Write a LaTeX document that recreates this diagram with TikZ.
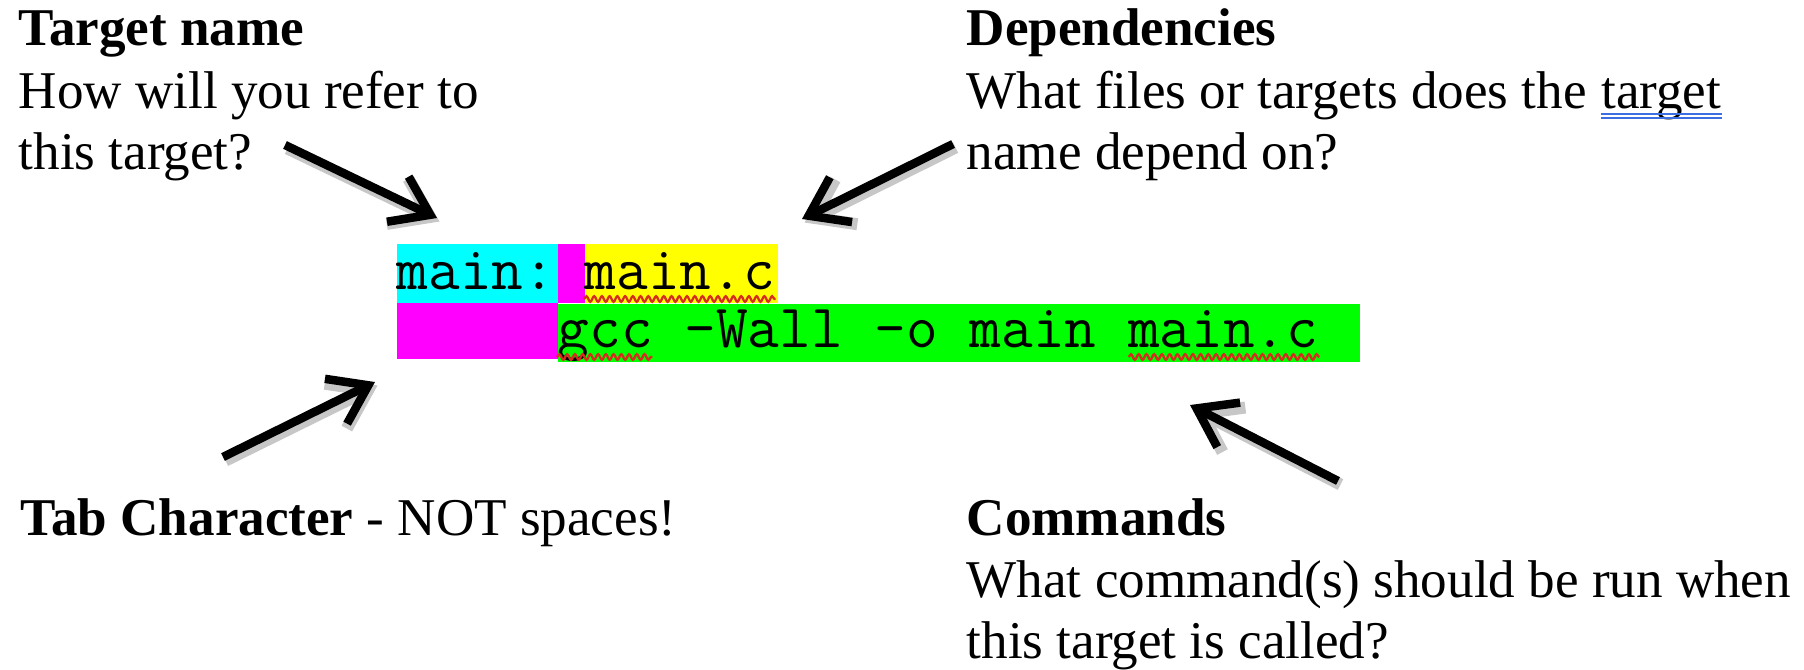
\documentclass[tikz,border=0pt]{standalone}
\usepackage{fontspec}
\setmainfont{Liberation Serif}
\usetikzlibrary{arrows.meta,calc,decorations.pathmorphing,positioning}

\definecolor{hlcyan}{RGB}{0,255,255}
\definecolor{hlmagenta}{RGB}{255,0,255}
\definecolor{hlyellow}{RGB}{255,255,0}
\definecolor{hlgreen}{RGB}{0,255,0}
\definecolor{spellred}{RGB}{215,45,30}
\definecolor{gramblue}{RGB}{60,110,225}

\newcommand{\txtsize}{\fontsize{15.1pt}{17.6pt}\selectfont}
\newcommand{\codesize}{\fontsize{17.5pt}{20pt}\selectfont\ttfamily}

\tikzset{
    lbl/.style={anchor=base west, inner sep=0pt, font=\txtsize},
    code/.style={anchor=base west, inner sep=0pt, font=\codesize},
    hl/.style={anchor=north west, inner sep=0pt, draw=none},
    arr/.style={line width=0.085cm, -{Straight Barb[length=0.36cm,width=0.5cm]},
        preaction={draw=black!22, line width=0.12cm,
            transform canvas={shift={(0.025cm,-0.035cm)}}}},
    wavy/.style={spellred, line width=0.65pt, decorate,
        decoration={snake, segment length=2.2pt, amplitude=0.8pt}},
    gram/.style={gramblue, line width=0.7pt},
}

\begin{document}
\begin{tikzpicture}[x=0.01cm, y=-0.01cm]

    \fill[white] (0,0) rectangle (1804,669);
    \useasboundingbox (0,0) rectangle (1804,669);

    % Highlight boxes behind the makefile rule
    \node[hl, fill=hlcyan, minimum width=1.61cm, minimum height=0.59cm] (tbox) at (396,243) {};
    \node[hl, fill=hlmagenta, minimum width=0.27cm, minimum height=0.59cm] (sbox) at (557,243) {};
    \node[hl, fill=hlyellow, minimum width=1.93cm, minimum height=0.59cm] (dbox) at (584,243) {};
    \node[hl, fill=hlmagenta, minimum width=1.61cm, minimum height=0.56cm] (tabbox) at (396,302) {};
    \node[hl, fill=hlgreen, minimum width=8.02cm, minimum height=0.58cm] (cbox) at (557,303) {};

    % The rule itself
    \node[code] (tgt) at (396,289) {main:};
    \node[code] (dep) at (584,289) {main.c};
    \node[code] (cmd) at (557,347) {gcc -Wall -o main main.c};

    % Spell check marks
    \draw[wavy] ($(dep.base west)+(0,10)$) -- ($(dep.base east)+(0,10)$);
    \draw[wavy] ($(cmd.base west)+(0,10)$) -- ($(cmd.base west)!3/24!(cmd.base east)+(0,10)$);
    \draw[wavy] ($(cmd.base west)!18/24!(cmd.base east)+(0,10)$) -- ($(cmd.base east)+(0,10)$);

    % Target name (top left)
    \node[lbl] (tn1) at (18,45) {\bfseries Target name};
    \node[lbl] (tn2) at (18,108) {How will you refer to};
    \node[lbl] (tn3) at (18,169) {this target?};

    % Dependencies (top right)
    \node[lbl] (dp1) at (966,45) {\bfseries Dependencies};
    \node[lbl] (dp2) at (966,108) {What files or targets does the};
    \node[lbl] (dpw) at ([xshift=3.78pt]dp2.base east) {target};
    \node[lbl] (dp3) at (966,169) {name depend on?};
    \draw[gram] ($(dpw.base west)+(0,6)$) -- ($(dpw.base east)+(0,6)$);
    \draw[gram] ($(dpw.base west)+(0,10)$) -- ($(dpw.base east)+(0,10)$);

    % Tab character (bottom left)
    \node[lbl] (tab) at (20,535) {\bfseries Tab Character\mdseries{} - NOT spaces!};

    % Commands (bottom right)
    \node[lbl] (cm1) at (966,535) {\bfseries Commands};
    \node[lbl] (cm2) at (966,597) {What command(s) should be run when};
    \node[lbl] (cm3) at (966,658) {this target is called?};

    % Arrows
    \coordinate (tnfrom) at (285,145);
    \coordinate (tnto) at (437,218);
    \coordinate (dpfrom) at (953,144);
    \coordinate (dpto) at (802,219);
    \coordinate (tabfrom) at (223,457);
    \coordinate (tabto) at (375,382);
    \coordinate (cmfrom) at (1338,481);
    \coordinate (cmto) at (1190,405);

    \draw[arr] (tnfrom) -- (tnto);
    \draw[arr] (dpfrom) -- (dpto);
    \draw[arr] (tabfrom) -- (tabto);
    \draw[arr] (cmfrom) -- (cmto);

\end{tikzpicture}
\end{document}
